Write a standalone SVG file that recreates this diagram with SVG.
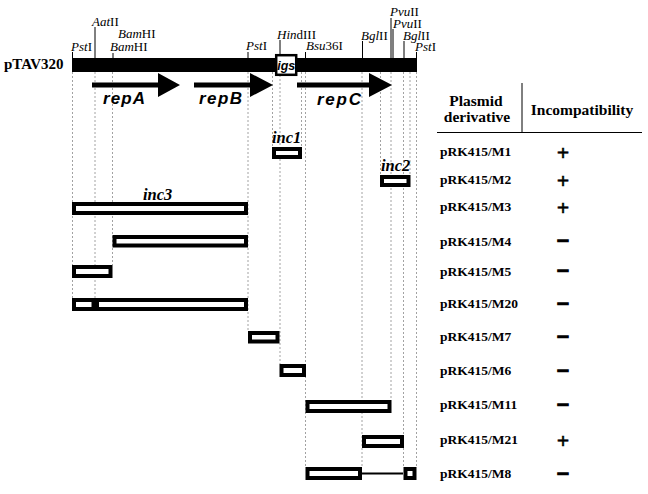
<svg xmlns="http://www.w3.org/2000/svg" width="648" height="494" viewBox="0 0 648 494">
<style>
.serif{font-family:"Liberation Serif","Times New Roman",serif;fill:#000}
.site{font-family:"Liberation Serif","Times New Roman",serif;font-size:13px;fill:#000}
.site .i{font-style:italic}
.gene{font-family:"Liberation Sans",Arial,sans-serif;font-weight:bold;font-style:italic;font-size:17px;fill:#000}
.inc{font-family:"Liberation Serif","Times New Roman",serif;font-weight:bold;font-style:italic;font-size:16.5px;fill:#000}
.row{font-family:"Liberation Serif","Times New Roman",serif;font-weight:bold;font-size:13.5px;fill:#000}
.hdr{font-family:"Liberation Serif","Times New Roman",serif;font-weight:bold;font-size:15.5px;fill:#000}
.sign{font-family:"Liberation Serif","Times New Roman",serif;font-weight:bold;font-size:22px;fill:#000;text-anchor:middle}
.plus{stroke:#000;stroke-width:0.5}
.minus{stroke:#000;stroke-width:1.4}
.frag{fill:#fff;stroke:#000;stroke-width:4}
.tick{stroke:#000;stroke-width:1;fill:none}
.dash{stroke:#8a8a8a;stroke-width:0.8;stroke-dasharray:2 2;fill:none}
.rule{stroke:#000;stroke-width:1;fill:none}
</style>
<rect width="648" height="494" fill="#fff"/>

<g id="connectors">
  <line class="dash" x1="72.5" y1="72" x2="72.5" y2="298"/>
  <line class="dash" x1="95" y1="72" x2="95" y2="298"/>
  <line class="dash" x1="112.5" y1="72" x2="112.5" y2="265"/>
  <line class="dash" x1="248" y1="72" x2="248" y2="331"/>
  <line class="dash" x1="272.5" y1="72" x2="272.5" y2="147"/>
  <line class="dash" x1="280" y1="75" x2="280" y2="364"/>
  <line class="dash" x1="301.5" y1="72" x2="301.5" y2="147"/>
  <line class="dash" x1="305.5" y1="72" x2="305.5" y2="467"/>
  <line class="dash" x1="362" y1="72" x2="362" y2="467"/>
  <line class="dash" x1="380.5" y1="72" x2="380.5" y2="175"/>
  <line class="dash" x1="391" y1="72" x2="391" y2="400"/>
  <line class="dash" x1="403.5" y1="72" x2="403.5" y2="467"/>
  <line class="dash" x1="410" y1="72" x2="410" y2="175"/>
  <line class="dash" x1="416.5" y1="72" x2="416.5" y2="467"/>
</g>

<g id="map">
  <text class="serif" x="4" y="69" font-size="15" font-weight="bold">pTAV320</text>
  <rect x="72" y="58" width="345" height="14" fill="#000"/>
  <rect x="276.2" y="55.2" width="20" height="19.6" fill="#fff" stroke="#000" stroke-width="2.5"/>
  <text x="286.2" y="69.5" font-family="Liberation Sans, Arial, sans-serif" font-weight="bold" font-style="italic" font-size="12.5" text-anchor="middle">igs</text>
</g>

<g id="sites">
  <line class="tick" x1="72.5" y1="52" x2="72.5" y2="58"/>
  <line class="tick" x1="95" y1="27" x2="95" y2="58"/>
  <line class="tick" x1="113" y1="53" x2="113" y2="58"/>
  <line class="tick" x1="248" y1="52" x2="248" y2="58"/>
  <line class="tick" x1="280" y1="40" x2="280" y2="55"/>
  <line class="tick" x1="305.5" y1="52" x2="305.5" y2="58"/>
  <line class="tick" x1="362.5" y1="41" x2="362.5" y2="58"/>
  <line class="tick" x1="391" y1="18" x2="391" y2="58"/>
  <line class="tick" x1="393" y1="29" x2="393" y2="58"/>
  <line class="tick" x1="404" y1="41" x2="404" y2="58"/>
  <line class="tick" x1="416.5" y1="52" x2="416.5" y2="58"/>
  <text class="site" x="71" y="51"><tspan class="i">Pst</tspan>I</text>
  <text class="site" x="92" y="26"><tspan class="i">Aat</tspan>II</text>
  <text class="site" x="118" y="38"><tspan class="i">Bam</tspan>HI</text>
  <text class="site" x="110" y="51"><tspan class="i">Bam</tspan>HI</text>
  <text class="site" x="246" y="50"><tspan class="i">Pst</tspan>I</text>
  <text class="site" x="277" y="39"><tspan class="i">Hin</tspan>dIII</text>
  <text class="site" x="306" y="50"><tspan class="i">Bsu</tspan>36I</text>
  <text class="site" x="361" y="40"><tspan class="i">Bgl</tspan>II</text>
  <text class="site" x="390" y="16"><tspan class="i">Pvu</tspan>II</text>
  <text class="site" x="393" y="28"><tspan class="i">Pvu</tspan>II</text>
  <text class="site" x="403" y="40"><tspan class="i">Bgl</tspan>II</text>
  <text class="site" x="415" y="51"><tspan class="i">Pst</tspan>I</text>
</g>

<g id="repA">
  <polygon points="92,82.5 158,82.5 158,73 180,85 158,97 158,87.5 92,87.5" fill="#000"/>
  <text class="gene" x="103" y="104" textLength="42">repA</text>
</g>
<g id="repB">
  <polygon points="194,82.5 250,82.5 250,73 273,85 250,97 250,87.5 194,87.5" fill="#000"/>
  <text class="gene" x="199" y="104" textLength="43">repB</text>
</g>
<g id="repC">
  <polygon points="297,82.5 369,82.5 369,73 392,85 369,97 369,87.5 297,87.5" fill="#000"/>
  <text class="gene" x="317" y="105" textLength="44">repC</text>
</g>

<g id="header">
  <text class="hdr" x="476" y="106" text-anchor="middle">Plasmid</text>
  <text class="hdr" x="477" y="121.5" text-anchor="middle">derivative</text>
  <text class="hdr" x="582" y="114.5" text-anchor="middle">Incompatibility</text>
  <line class="rule" x1="522" y1="83" x2="522" y2="132"/>
  <line class="rule" x1="437" y1="132.5" x2="642" y2="132.5"/>
</g>

<g id="M1">
  <text class="inc" x="272" y="143">inc1</text>
  <rect class="frag" x="274" y="149" width="26" height="8"/>
  <text class="row" x="440" y="156">pRK415/M1</text>
  <text class="sign plus" x="563" y="160">+</text>
</g>
<g id="M2">
  <text class="inc" x="381" y="171">inc2</text>
  <rect class="frag" x="382" y="177" width="26.5" height="8"/>
  <text class="row" x="440" y="184">pRK415/M2</text>
  <text class="sign plus" x="563" y="188">+</text>
</g>
<g id="M3">
  <text class="inc" x="143" y="200">inc3</text>
  <rect class="frag" x="74" y="204" width="172" height="9"/>
  <text class="row" x="440" y="211">pRK415/M3</text>
  <text class="sign plus" x="563" y="215">+</text>
</g>
<g id="M4">
  <rect class="frag" x="114.5" y="237" width="131.5" height="8.5"/>
  <text class="row" x="440" y="246">pRK415/M4</text>
  <text class="sign minus" x="563" y="247.5">−</text>
</g>
<g id="M5">
  <rect class="frag" x="74" y="267" width="36.5" height="9"/>
  <text class="row" x="440" y="275.5">pRK415/M5</text>
  <text class="sign minus" x="563" y="277.5">−</text>
</g>
<g id="M20">
  <rect class="frag" x="74" y="300" width="172" height="9"/>
  <rect x="91.5" y="299" width="7.5" height="11" fill="#000"/>
  <text class="row" x="440" y="308">pRK415/M20</text>
  <text class="sign minus" x="563" y="310.5">−</text>
</g>
<g id="M7">
  <rect class="frag" x="250" y="333" width="27.5" height="8.5"/>
  <text class="row" x="440" y="341">pRK415/M7</text>
  <text class="sign minus" x="563" y="343.5">−</text>
</g>
<g id="M6">
  <rect class="frag" x="281.5" y="366" width="22.5" height="9"/>
  <text class="row" x="440" y="375">pRK415/M6</text>
  <text class="sign minus" x="563" y="377.5">−</text>
</g>
<g id="M11">
  <rect class="frag" x="307.5" y="402" width="82" height="9"/>
  <text class="row" x="440" y="409">pRK415/M11</text>
  <text class="sign minus" x="563" y="411.5">−</text>
</g>
<g id="M21">
  <rect class="frag" x="364" y="437" width="38" height="9"/>
  <text class="row" x="440" y="444">pRK415/M21</text>
  <text class="sign plus" x="563" y="448">+</text>
</g>
<g id="M8">
  <rect class="frag" x="307.5" y="469" width="52.5" height="9"/>
  <line x1="362" y1="473.5" x2="403" y2="473.5" stroke="#000" stroke-width="2"/>
  <rect class="frag" x="405.5" y="469" width="9" height="9"/>
  <text class="row" x="440" y="478">pRK415/M8</text>
  <text class="sign minus" x="563" y="480.5">−</text>
</g>
</svg>
